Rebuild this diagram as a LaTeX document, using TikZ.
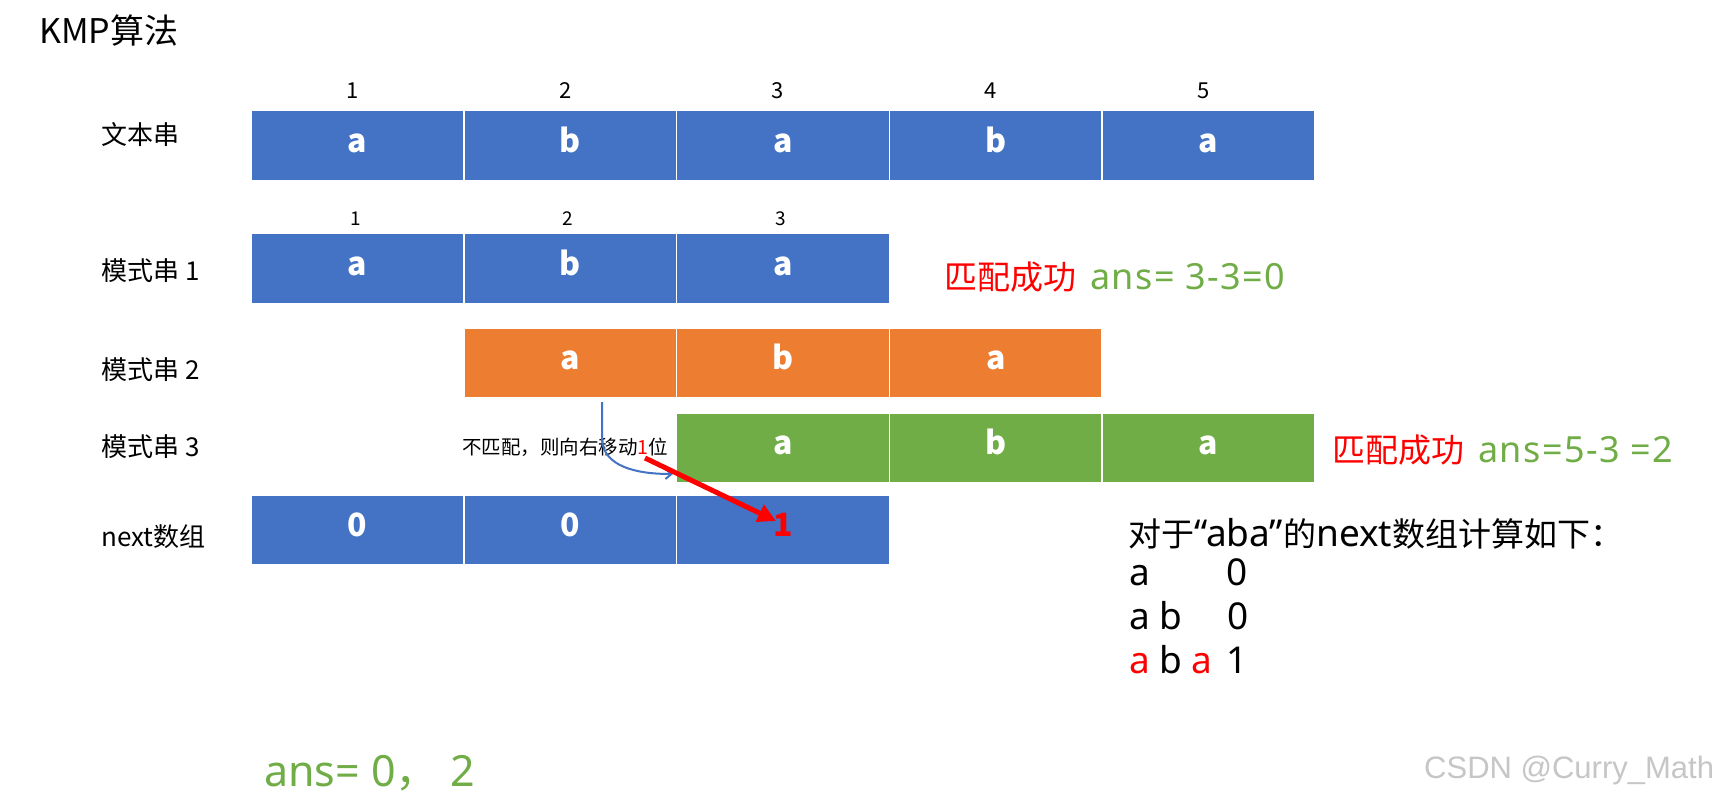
\documentclass[tikz,border=0pt]{standalone}
\usepackage{fontspec}
\setmainfont{Noto Sans CJK SC}
\newfontfamily\wmfont{Liberation Sans}
\newfontfamily\latfont{Noto Sans}
\newfontfamily\latwide{Noto Sans}[LetterSpace=4]
\usetikzlibrary{arrows.meta}
\definecolor{cblue}{HTML}{4472C4}
\definecolor{corange}{HTML}{ED7D31}
\definecolor{cgreen}{HTML}{70AD47}
\definecolor{cred}{HTML}{FF0000}
\newcommand\fsz[1]{\fontsize{#1}{#1}\selectfont}
\newcommand\lt[1]{{\latfont\fsz{37}#1}}
\begin{document}
\begin{tikzpicture}[x=1pt,y=-1pt,
  cell/.style={minimum width=212.8pt,minimum height=70pt,inner sep=0pt,draw=white,line width=1.5pt,
    text=white,font=\fsz{32}\bfseries,text height=20pt,text depth=7pt},
  idx/.style={inner sep=0pt,font=\fsz{22}},
  idxs/.style={inner sep=0pt,font=\fsz{19}},
  lbl/.style={anchor=west,inner sep=0pt,font=\fsz{26}},
  txt/.style={anchor=west,inner sep=0pt,font=\fsz{31.5}},
  okstyle/.style={anchor=west,inner sep=0pt,text=cred,font=\fsz{33}}]
\useasboundingbox (0,0) rectangle (1718,801);
\fill[white] (0,0) rectangle (1718,801);

\node[anchor=west,inner sep=0pt,font=\fsz{34}] (title) at (39,31) {KMP算法};

% row labels
\node[lbl] (L0) at (101,135) {文本串};
\node[lbl] (L1) at (101,270.6) {模式串 1};
\node[lbl] (L2) at (101,370) {模式串 2};
\node[lbl] (L3) at (101,447) {模式串 3};
\node[lbl] (L4) at (101,537) {next数组};

% text string
\foreach \i/\t in {1/a,2/b,3/a,4/b,5/a} {
  \node[cell,fill=cblue] (t\i) at ({251+212.8*(\i-0.5)},145.7) {\t};
  \node[idx] (tn\i) at ({251+212.8*(\i-0.5)-5},91) {\i};
}
% pattern 1
\foreach \i/\t in {1/a,2/b,3/a} {
  \node[cell,fill=cblue] (p\i) at ({251+212.8*(\i-0.5)},268.5) {\t};
  \node[idxs] (pn\i) at ({251+212.8*(\i-0.5)-2},219) {\i};
}
% pattern 2
\foreach \i/\t in {2/a,3/b,4/a} {
  \node[cell,fill=corange] (o\i) at ({251+212.8*(\i-0.5)},363.2) {\t};
}
% pattern 3
\foreach \i/\t in {3/a,4/b,5/a} {
  \node[cell,fill=cgreen] (g\i) at ({251+212.8*(\i-0.5)},448) {\t};
}
% next array
\node[cell,fill=cblue] (n1) at ({251+212.8*0.5},530) {0};
\node[cell,fill=cblue] (n2) at ({251+212.8*1.5},530) {0};
\node[cell,fill=cblue,text=cred] (n3) at ({251+212.8*2.5},530) {1};

% success labels
\node[okstyle] (s1) at (944,277)
  {匹配成功\hspace{14pt}{\latwide\fsz{36}\color{cgreen}ans= 3-3=0}};
\node[okstyle] (s2) at (1332,450)
  {匹配成功\hspace{14pt}{\latwide\fsz{36}\color{cgreen}ans=5-3 =2}};

% mismatch note
\node[anchor=west,inner sep=0pt,font=\fsz{19.5}] (note) at (462,447)
  {不匹配，则向右移动\textcolor{cred}{1}位};

% arrows
\coordinate (bs) at (602,402);
\coordinate (be) at (673,474);
\draw[cblue,line width=2pt,-{Straight Barb[length=6pt,width=10pt]}]
  (bs) -- (602,440) .. controls (604,466) and (635,474) .. (be);
\coordinate (rs) at (645,458);
\coordinate (re) at (776,521);
\draw[cred,line width=5pt,-{Triangle[length=18pt,width=18pt]}] (rs) -- (re);

% next computation
\node[txt,font=\fsz{33}] (h) at (1128,533.6) {对于\lt{“aba”}的\lt{next}数组计算如下：};
\node[txt] (l1) at (1129,572) {\lt{\makebox[97pt][l]{a}0}};
\node[txt] (l2) at (1129,616) {\lt{\makebox[98pt][l]{a b}0}};
\node[txt] (l3) at (1129,660) {\lt{\makebox[97pt][l]{\textcolor{cred}{a} b \textcolor{cred}{a}}1}};

% answer
\node[anchor=west,inner sep=0pt,text=cgreen,font=\fsz{43}] (ans) at (264,773.5) {{\latfont ans= 0}，{\latfont\ 2}};

% watermark
\node[anchor=west,inner sep=0pt,text=gray!45,font=\wmfont\fsz{31}] (wm) at (1424,770) {CSDN @Curry\_Math};
\end{tikzpicture}
\end{document}
